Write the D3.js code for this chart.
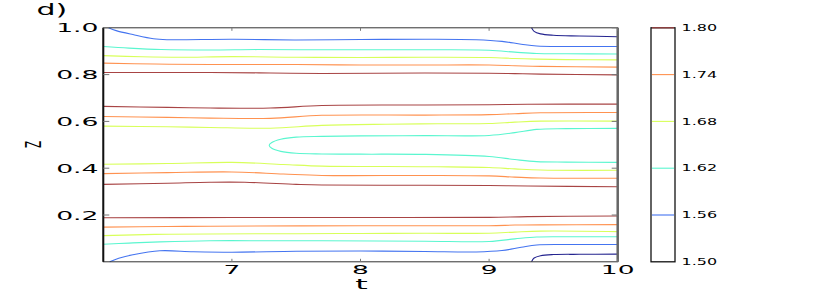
<!DOCTYPE html>
<html>
<head>
<meta charset="utf-8">
<script src="https://cdn.jsdelivr.net/npm/d3@7"></script>
<style>
  body { margin: 0; background: #fff; }
  svg { display: block; }
  text { font-family: "DejaVu Sans", sans-serif; fill: #000; }
</style>
</head>
<body>
<svg></svg>
<script>
// contour levels and their line colours (jet)
const levels = [1.50, 1.56, 1.62, 1.68, 1.74, 1.80];
const levelColors = ["#24248f", "#4474f0", "#5af6cf", "#d8ff5a", "#ff9250", "#a84444"];

const xTicks = [7, 8, 9, 10];
const yTicks = [0.2, 0.4, 0.6, 0.8, 1.0];

// contour lines as [t, Z]
const c150Top = [[9.33, 1.000], [9.35, 0.985], [9.40, 0.974], [9.50, 0.968], [9.70, 0.965], [10, 0.962]];
const c150Bot = [[9.33, 0.000], [9.35, 0.016], [9.40, 0.026], [9.50, 0.031], [9.70, 0.032], [10, 0.033]];

const c156Top = [[6.04, 1.000], [6.10, 0.988], [6.23, 0.971], [6.39, 0.953], [6.5, 0.949], [7.0, 0.951], [7.5, 0.948], [8.0, 0.950], [8.5, 0.951], [8.9, 0.949], [9.1, 0.942], [9.25, 0.930], [9.37, 0.922], [9.6, 0.920], [10, 0.920]];
const c156Bot = [[6.05, 0.000], [6.12, 0.015], [6.23, 0.030], [6.44, 0.047], [6.7, 0.043], [7.0, 0.041], [7.5, 0.045], [8.0, 0.046], [8.5, 0.044], [8.9, 0.042], [9.1, 0.048], [9.25, 0.062], [9.37, 0.072], [9.6, 0.074], [10, 0.074]];

const c162Top = [[6.0, 0.920], [6.2, 0.913], [6.45, 0.907], [6.83, 0.905], [7.2, 0.907], [7.7, 0.906], [8.2, 0.906], [8.6, 0.906], [9.0, 0.904], [9.2, 0.896], [9.37, 0.890], [9.6, 0.889], [10, 0.888]];
const c162Mid = [[10, 0.570], [9.6, 0.569], [9.37, 0.566], [9.2, 0.552], [9.0, 0.540], [8.5, 0.539], [8.0, 0.538], [7.7, 0.536], [7.5, 0.533], [7.38, 0.524], [7.31, 0.510], [7.29, 0.498], [7.31, 0.485], [7.38, 0.472], [7.5, 0.464], [7.7, 0.461], [8.0, 0.460], [8.5, 0.459], [9.0, 0.450], [9.2, 0.437], [9.37, 0.428], [9.6, 0.426], [10, 0.425]];
const c162Bot = [[6.0, 0.075], [6.2, 0.080], [6.44, 0.085], [6.83, 0.090], [7.3, 0.090], [7.7, 0.090], [8.5, 0.088], [9.0, 0.087], [9.2, 0.098], [9.37, 0.106], [9.6, 0.107], [10, 0.107]];

const c168Top = [[6.0, 0.881], [6.3, 0.876], [6.6, 0.874], [7.0, 0.877], [7.5, 0.874], [8.0, 0.873], [8.5, 0.874], [9.0, 0.873], [9.2, 0.869], [9.37, 0.866], [9.6, 0.864], [10, 0.863]];
const c168Up = [[6.0, 0.580], [6.5, 0.577], [6.83, 0.574], [7.3, 0.571], [7.7, 0.583], [8.2, 0.588], [8.6, 0.590], [9.0, 0.591], [9.2, 0.597], [9.4, 0.601], [10, 0.601]];
const c168Low = [[6.0, 0.417], [6.5, 0.420], [7.0, 0.425], [7.4, 0.416], [7.7, 0.409], [8.2, 0.407], [8.6, 0.406], [9.0, 0.403], [9.2, 0.397], [9.4, 0.392], [10, 0.391]];
const c168Bot = [[6.0, 0.112], [6.4, 0.117], [6.83, 0.119], [7.5, 0.120], [8.0, 0.121], [8.5, 0.122], [9.0, 0.122], [9.2, 0.127], [9.4, 0.131], [10, 0.129]];

const c174Top = [[6.0, 0.849], [6.4, 0.845], [6.83, 0.843], [7.5, 0.843], [8.0, 0.841], [8.5, 0.841], [9.0, 0.841], [9.2, 0.838], [9.4, 0.835], [10, 0.832]];
const c174Up = [[6.0, 0.621], [6.5, 0.617], [6.83, 0.614], [7.3, 0.613], [7.7, 0.626], [8.5, 0.627], [9.0, 0.629], [9.2, 0.633], [9.4, 0.637], [10, 0.638]];
const c174Low = [[6.0, 0.377], [6.5, 0.381], [7.0, 0.384], [7.4, 0.375], [7.7, 0.369], [8.5, 0.369], [9.0, 0.367], [9.2, 0.362], [9.4, 0.358], [10, 0.357]];
const c174Bot = [[6.0, 0.148], [6.5, 0.151], [6.83, 0.152], [8.0, 0.154], [9.0, 0.154], [9.2, 0.157], [9.4, 0.158], [10, 0.159]];

const c180Top = [[6.0, 0.809], [6.83, 0.809], [7.3, 0.807], [7.7, 0.805], [8.5, 0.807], [9.0, 0.806], [9.2, 0.804], [9.4, 0.802], [10, 0.799]];
const c180Up = [[6.0, 0.664], [6.5, 0.660], [6.83, 0.657], [7.3, 0.657], [7.7, 0.668], [8.5, 0.670], [9.0, 0.671], [9.3, 0.673], [10, 0.674]];
const c180Low = [[6.0, 0.331], [6.5, 0.336], [6.83, 0.340], [7.1, 0.340], [7.5, 0.331], [7.7, 0.328], [8.5, 0.327], [9.0, 0.326], [9.3, 0.324], [10, 0.321]];
const c180Bot = [[6.0, 0.188], [7.0, 0.189], [8.0, 0.189], [9.0, 0.190], [9.3, 0.193], [10, 0.196]];

const contours = [
  { level: 1.50, pts: c150Top }, { level: 1.50, pts: c150Bot },
  { level: 1.56, pts: c156Top }, { level: 1.56, pts: c156Bot },
  { level: 1.62, pts: c162Top }, { level: 1.62, pts: c162Mid }, { level: 1.62, pts: c162Bot },
  { level: 1.68, pts: c168Top }, { level: 1.68, pts: c168Up }, { level: 1.68, pts: c168Low }, { level: 1.68, pts: c168Bot },
  { level: 1.74, pts: c174Top }, { level: 1.74, pts: c174Up }, { level: 1.74, pts: c174Low }, { level: 1.74, pts: c174Bot },
  { level: 1.80, pts: c180Top }, { level: 1.80, pts: c180Up }, { level: 1.80, pts: c180Low }, { level: 1.80, pts: c180Bot }
];

const svg = d3.select("svg").attr("width", 830).attr("height", 291);

const plot = { left: 103.3, right: 617.7, top: 27.8, bottom: 261.8 };
const bar = { left: 651, right: 675, top: 27.8, bottom: 261.8 };

const x = d3.scaleLinear().domain([6, 10]).range([plot.left, plot.right]);
const y = d3.scaleLinear().domain([0, 1]).range([plot.bottom, plot.top]);
const color = d3.scaleOrdinal().domain(levels).range(levelColors);
const cy = d3.scaleLinear().domain([1.50, 1.80]).range([bar.bottom, bar.top]);

// the picture is stretched sideways, so text is too
const sx = 2.05;
function label(g, px, py, str, size, anchor, scale) {
  return g.append("text")
    .attr("transform", `translate(${px},${py}) scale(${scale || sx},1)`)
    .attr("text-anchor", anchor)
    .style("font-size", size + "px")
    .text(str);
}

const line = d3.line()
  .x(d => x(d[0]))
  .y(d => y(d[1]))
  .curve(d3.curveCatmullRom.alpha(0.5));

svg.append("g")
  .selectAll("path")
  .data(contours)
  .join("path")
  .attr("fill", "none")
  .attr("stroke", d => color(d.level))
  .attr("stroke-width", 1.1)
  .attr("d", d => line(d.pts));

// frame
svg.append("rect")
  .attr("x", plot.left).attr("y", plot.top)
  .attr("width", plot.right - plot.left).attr("height", plot.bottom - plot.top)
  .attr("fill", "none").attr("stroke", "#333").attr("stroke-width", 1);
svg.append("line")
  .attr("x1", plot.left).attr("x2", plot.left)
  .attr("y1", plot.top).attr("y2", plot.bottom)
  .attr("stroke", "#111").attr("stroke-width", 2);
svg.append("line")
  .attr("x1", plot.right).attr("x2", plot.right)
  .attr("y1", plot.top).attr("y2", plot.bottom)
  .attr("stroke", "#666").attr("stroke-width", 2.5);

// ticks, pointing inward on all sides
const ticks = svg.append("g").attr("stroke", "#777").attr("stroke-width", 1);
yTicks.forEach(v => {
  ticks.append("line").attr("x1", plot.left).attr("x2", plot.left + 6).attr("y1", y(v)).attr("y2", y(v));
  ticks.append("line").attr("x1", plot.right - 6).attr("x2", plot.right).attr("y1", y(v)).attr("y2", y(v));
});
xTicks.forEach(v => {
  ticks.append("line").attr("x1", x(v)).attr("x2", x(v)).attr("y1", plot.top).attr("y2", plot.top + 3);
  ticks.append("line").attr("x1", x(v)).attr("x2", x(v)).attr("y1", plot.bottom - 3).attr("y2", plot.bottom);
});

const txt = svg.append("g");
yTicks.forEach(v => label(txt, 98.5, y(v) + 4.6, d3.format(".1f")(v), 13, "end"));
xTicks.forEach(v => label(txt, x(v), 274, String(v), 12.5, "middle", 2.12));

label(txt, 36.5, 14.5, "d)", 15, "start", 2.0);
label(txt, 361.5, 288.5, "t", 14.5, "middle", 2.2);
txt.append("text")
  .attr("transform", `translate(33,144.5) scale(2,1) rotate(-90)`)
  .attr("text-anchor", "middle")
  .attr("dy", "0.36em")
  .style("font-size", "10.5px")
  .text("Z");

// colour bar
const cb = svg.append("g");
cb.append("rect")
  .attr("x", bar.left).attr("y", bar.top)
  .attr("width", bar.right - bar.left).attr("height", bar.bottom - bar.top)
  .attr("fill", "#fff").attr("stroke", "#111").attr("stroke-width", 1.3);
cb.selectAll("line.lv")
  .data(levels.slice(1))
  .join("line")
  .attr("class", "lv")
  .attr("x1", bar.left + 1).attr("x2", bar.right - 1)
  .attr("y1", d => cy(d)).attr("y2", d => cy(d))
  .attr("stroke", d => color(d)).attr("stroke-width", 1.1);
levels.forEach(v => label(cb, 681.5, cy(v) + 3.2, d3.format(".2f")(v), 8.5, "start", 1.88));
</script>
</body>
</html>
